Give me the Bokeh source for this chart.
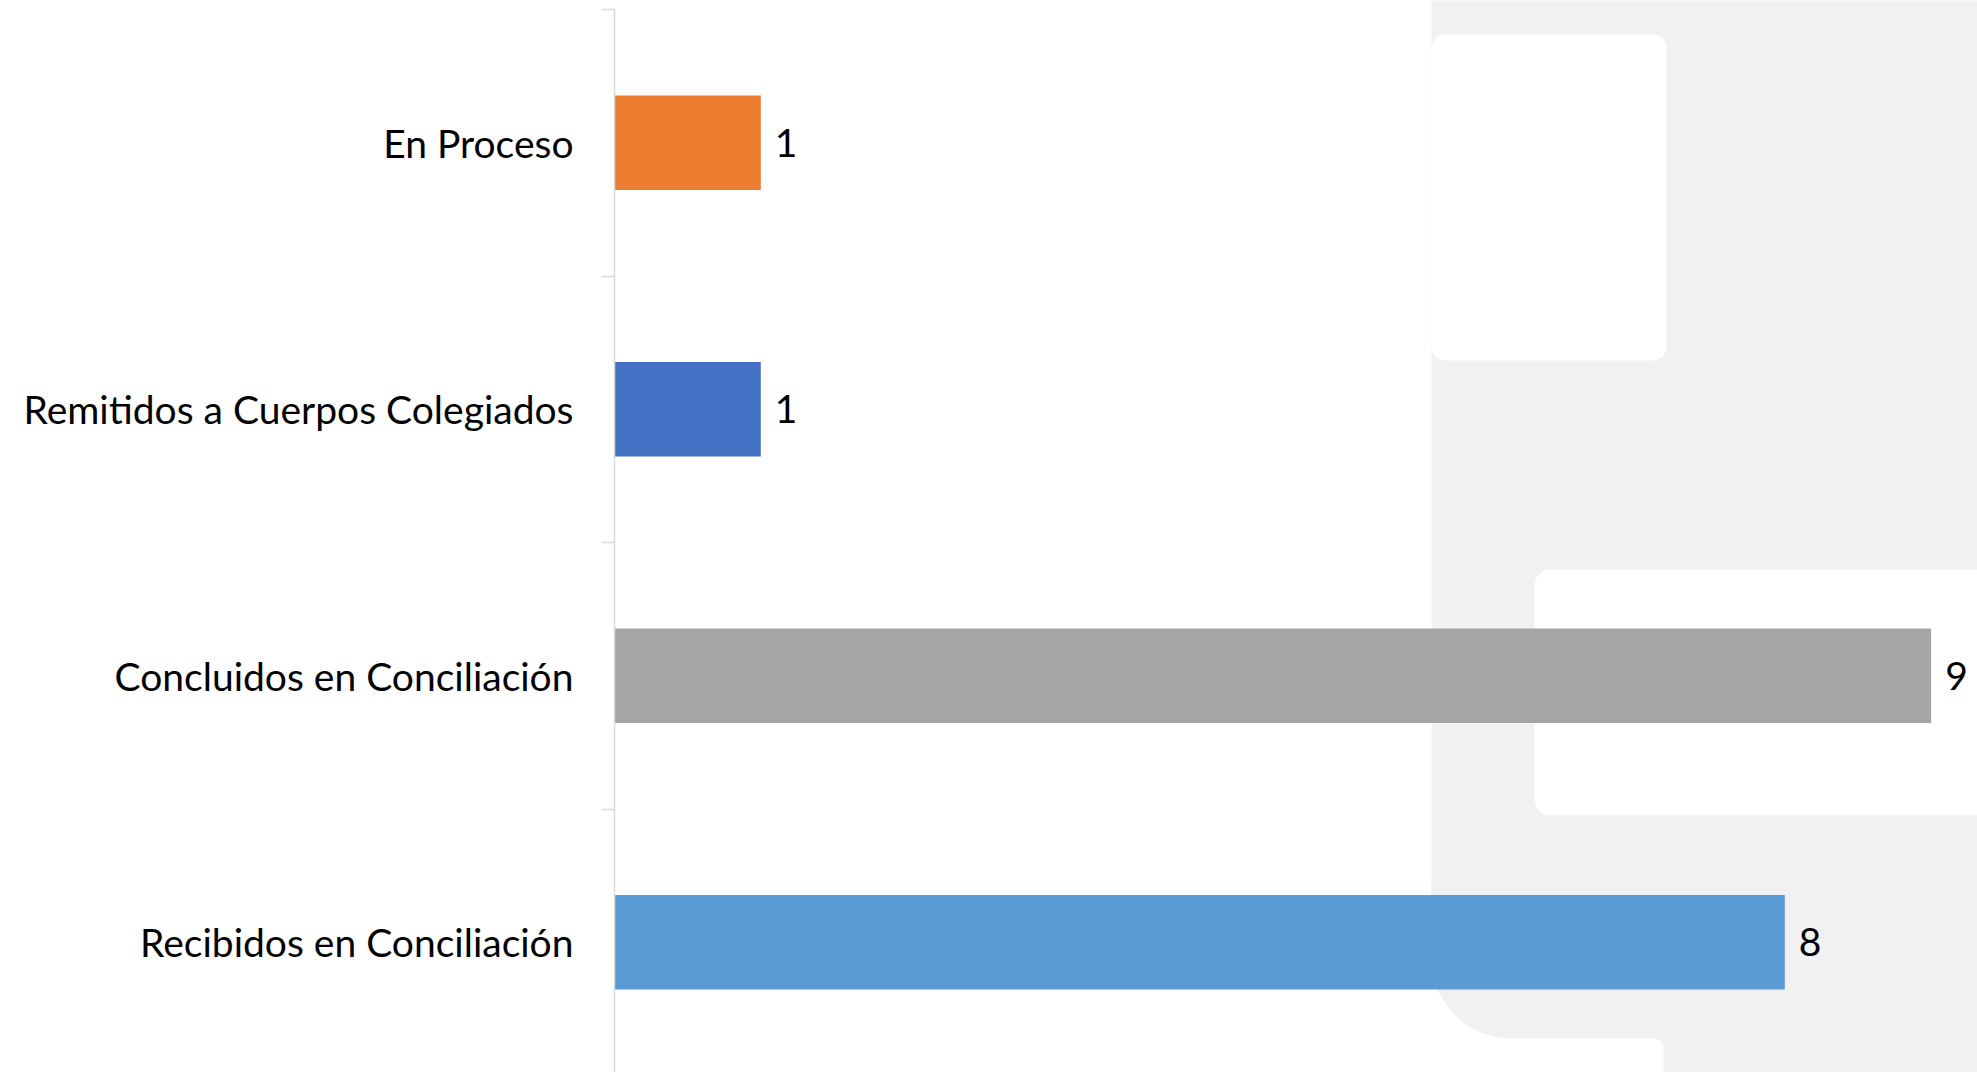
from bokeh.plotting import figure
from bokeh.models import ColumnDataSource, Range1d, FixedTicker, BoxAnnotation
from bokeh.core.properties import value
from bokeh.embed import file_html
from bokeh.resources import INLINE

# ---- data (top to bottom as shown) ----
categories = ["En Proceso", "Remitidos a Cuerpos Colegiados",
              "Concluidos en Conciliación", "Recibidos en Conciliación"]
counts = [1, 1, 9, 8]
colors = ["#ED7D31", "#4472C4", "#A5A5A5", "#5B9BD5"]

FONT = "Lato"
FS = "39px"

n = len(categories)
ypos = [n - i - 0.5 for i in range(n)]          # band centres
labels_txt = [str(v) for v in counts]

src = ColumnDataSource(dict(y=ypos, v=counts, c=colors, t=labels_txt))

p = figure(width=1977, height=1072, output_backend="svg", toolbar_location=None,
           x_range=Range1d(0, 9.317), y_range=Range1d(0.0113, n + 0.0338),
           x_axis_location=None, min_border_left=614, min_border_right=0,
           min_border_top=0, min_border_bottom=0)
p.outline_line_color = None
p.background_fill_color = "white"
p.border_fill_color = "white"
p.xgrid.visible = False
p.ygrid.visible = False

# ---- decorative slide background (canvas pixels) ----
GRAY = "#F0F1F0"
def deco(l, r, t, b, color, radius=0):
    return BoxAnnotation(left=l, right=r, top=t, bottom=b,
                         left_units="canvas", right_units="canvas",
                         top_units="canvas", bottom_units="canvas",
                         fill_color=color, fill_alpha=1, line_color=None,
                         border_radius=radius, level="underlay")

p.add_layout(deco(1431, 2010, -20, 1110, GRAY))
p.add_layout(deco(1431, 1666, 34, 360, "white", 14))
p.add_layout(deco(1534, 2030, 569, 815, "white", 16))
p.add_layout(deco(1425, 1530, 940, 1045, "white"))
p.add_layout(deco(1431, 1720, 880, 1038, GRAY, (0, 0, 0, 80)))
p.add_layout(deco(1425, 1663, 1038, 1140, "white", (0, 10, 0, 0)))

# ---- bars ----
p.hbar(y="y", right="v", left=0, height=0.355, fill_color="c", line_color=None,
       source=src)

# ---- value labels ----
p.text(x="v", y="y", text="t", source=src, x_offset=14,
       text_baseline="middle", text_align="left",
       text_font=value(FONT), text_font_size=FS, text_color="#000000")

# ---- category axis ----
ax = p.yaxis[0]
ax.bounds = (0, n)
ax.ticker = FixedTicker(ticks=ypos, minor_ticks=[float(k) for k in range(1, n + 1)])
ax.major_label_overrides = {y: c for y, c in zip(ypos, categories)}
ax.major_tick_out = 0
ax.major_tick_in = 0
ax.minor_tick_out = 13
ax.minor_tick_in = 0
ax.minor_tick_line_color = "#D9D9D9"
ax.minor_tick_line_width = 1.5
ax.axis_line_color = "#D9D9D9"
ax.axis_line_width = 1.5
ax.major_label_standoff = 28
ax.major_label_text_font = FONT
ax.major_label_text_font_size = FS
ax.major_label_text_color = "#000000"

open("out.html", "w").write(file_html(p, INLINE))
